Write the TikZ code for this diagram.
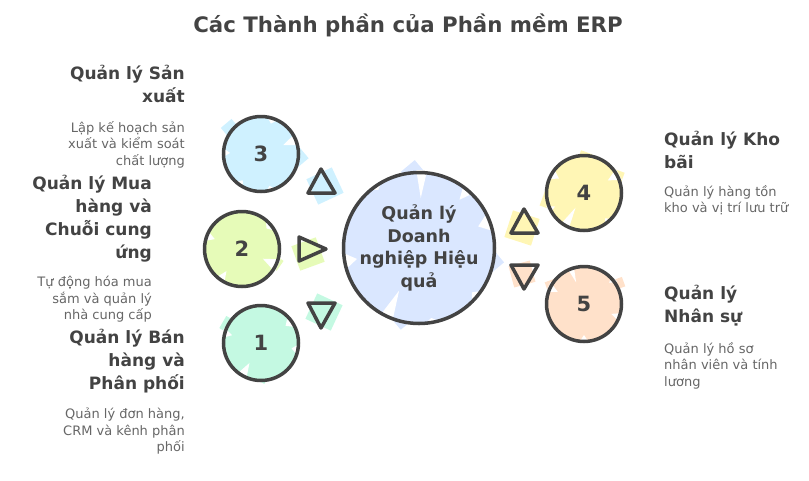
\documentclass[tikz,border=0pt]{standalone}
\usepackage{fontspec}
\setmainfont{DejaVu Sans}
\usetikzlibrary{positioning}
\definecolor{inkc}{HTML}{434343}
\definecolor{greyc}{HTML}{666666}
\definecolor{blueA}{HTML}{CFF1FF}
\definecolor{greenA}{HTML}{E6FBB8}
\definecolor{mintA}{HTML}{C4F9E2}
\definecolor{blueB}{HTML}{DAE7FF}
\definecolor{yellowA}{HTML}{FFF6B5}
\definecolor{peachA}{HTML}{FFE1CA}
\newcommand{\hatchrect}[6]{\fill[#6, rotate around={#3:(#1,#2)}] (#1-#4,#2-#5) rectangle (#1+#4,#2+#5);}
\newcommand{\notch}[6]{\fill[white,shift={(#1,#2)}] (-#3-#5:#4+1) -- (-#3+#5:#4+1) -- (-#3:#4-#6) -- cycle;}
\tikzset{
  ring/.style={circle,draw=inkc,line width=3.5pt,minimum size=75pt,inner sep=0pt,text=inkc,font=\fontsize{21}{24}\selectfont\bfseries},
  hub/.style={ring,minimum size=151pt,font=\fontsize{17.5}{22.5}\selectfont\bfseries,align=center},
  tri/.style={draw=inkc,line width=3.5pt,line join=round},
  headr/.style={anchor=north east,inner sep=0pt,align=right,text=inkc,font=\fontsize{17}{23}\selectfont\bfseries,execute at begin node=\strut},
  headl/.style={headr,anchor=north west,align=left},
  descr/.style={anchor=north east,inner sep=0pt,align=right,text=greyc,font=\fontsize{13}{16.6}\selectfont,execute at begin node=\strut},
  descl/.style={descr,anchor=north west,align=left},
}
\begin{document}
\begin{tikzpicture}[x=1pt,y=-1pt]
\useasboundingbox (0,0) rectangle (809,480);

% colour patches
\fill[blueA] (261,154) circle (38);
\hatchrect{230}{128}{40}{7}{6}{blueA}
\hatchrect{298}{158}{40}{8}{7}{blueA}
\fill[greenA] (242,249) circle (38);
\hatchrect{276}{263}{-35}{5}{6}{greenA}
\fill[mintA] (261,343) circle (38);
\hatchrect{228}{325}{-30}{6}{7}{mintA}
\hatchrect{262}{378}{-30}{5}{4}{mintA}
\fill[blueB] (419,248) circle (76);
\hatchrect{413}{172}{40}{9}{8}{blueB}
\hatchrect{492}{262}{40}{9}{8}{blueB}
\hatchrect{403}{320}{40}{8}{6}{blueB}
\fill[yellowA] (584,193) circle (38);
\hatchrect{548}{200}{-20}{6}{8}{yellowA}
\hatchrect{585}{157}{-20}{6}{5}{yellowA}
\hatchrect{616}{176}{-20}{7}{6}{yellowA}
\fill[peachA] (584,304) circle (38);
\hatchrect{617}{284}{20}{7}{5}{peachA}
\hatchrect{552}{285}{20}{6}{5}{peachA}

\hatchrect{325}{186}{25}{14}{14}{blueA}
\hatchrect{308}{254}{20}{13}{13}{greenA}
\hatchrect{324}{312}{-25}{14}{14}{mintA}
\hatchrect{522}{228}{-18}{14}{14}{yellowA}
\hatchrect{522}{274}{15}{11}{11}{peachA}

% white gaps
\notch{261}{154}{72}{39}{11}{7}
\notch{261}{154}{22}{39}{9}{15}
\notch{261}{154}{178}{39}{8}{8}
\notch{261}{154}{235}{39}{9}{7}
\notch{261}{154}{285}{39}{10}{6}
\notch{242}{249}{160}{39}{9}{10}
\notch{242}{249}{40}{39}{14}{7}
\notch{242}{249}{335}{39}{10}{16}
\notch{242}{249}{235}{39}{8}{12}
\notch{261}{343}{35}{39}{12}{9}
\notch{261}{343}{165}{39}{8}{9}
\notch{261}{343}{240}{39}{8}{16}
\notch{261}{343}{350}{39}{10}{8}
\notch{419}{248}{88}{77}{4}{27}
\notch{419}{248}{125}{77}{7}{6}
\notch{419}{248}{50}{77}{5}{14}
\notch{419}{248}{20}{77}{8}{14}
\notch{419}{248}{190}{77}{7}{14}
\notch{419}{248}{245}{77}{5}{30}
\notch{419}{248}{280}{77}{7}{6}
\notch{419}{248}{320}{77}{7}{8}
\notch{584}{193}{150}{39}{10}{10}
\notch{584}{193}{28}{39}{9}{12}
\notch{584}{193}{310}{39}{9}{6}
\notch{584}{193}{240}{39}{7}{22}
\notch{584}{193}{205}{39}{6}{7}
\notch{584}{304}{110}{39}{5}{16}
\notch{584}{304}{40}{39}{7}{6}
\notch{584}{304}{155}{39}{8}{10}
\notch{584}{304}{270}{39}{8}{8}
\notch{584}{304}{340}{39}{7}{10}

% circles
\node[ring] (Prod) at (261,154) {3};
\node[ring] (Buy) at (242,249) {2};
\node[ring] (Sale) at (261,343) {1};
\node[hub] (Core) at (419,248) {Quản lý\\Doanh\\nghiệp Hiệu\\quả};
\node[ring] (Stock) at (584,193) {4};
\node[ring] (Staff) at (584,304) {5};

% triangles
\draw[tri] (321,169) -- (335,193) -- (308,193) -- cycle;
\draw[tri] (299,237) -- (326,249) -- (299,261) -- cycle;
\draw[tri] (308,303) -- (335,303) -- (321,328) -- cycle;
\draw[tri] (524,209) -- (538,233) -- (511,233) -- cycle;
\draw[tri] (511,265) -- (538,265) -- (524,289) -- cycle;

% title
\node[inner sep=0pt,text=inkc,font=\fontsize{21.3}{24}\selectfont\bfseries] (Title) at (408,25) {Các Thành phần của Phần mềm ERP};

% left labels
\node[headr] (ProdHead) at (185,65) {Quản lý Sản\\xuất};
\node[descr] (ProdText) at (185,121) {Lập kế hoạch sản\\xuất và kiểm soát\\chất lượng};
\node[headr] (BuyHead) at (152,175) {Quản lý Mua\\hàng và\\Chuỗi cung\\ứng};
\node[descr] (BuyText) at (152,276) {Tự động hóa mua\\sắm và quản lý\\nhà cung cấp};
\node[headr] (SaleHead) at (185,329) {Quản lý Bán\\hàng và\\Phân phối};
\node[descr] (SaleText) at (185,408) {Quản lý đơn hàng,\\CRM và kênh phân\\phối};

% right labels
\node[headl] (StockHead) at (664,131) {Quản lý Kho\\bãi};
\node[descl] (StockText) at (664,185) {Quản lý hàng tồn\\kho và vị trí lưu trữ};
\node[headl] (StaffHead) at (664,285) {Quản lý\\Nhân sự};
\node[descl] (StaffText) at (664,342) {Quản lý hồ sơ\\nhân viên và tính\\lương};
\end{tikzpicture}
\end{document}
